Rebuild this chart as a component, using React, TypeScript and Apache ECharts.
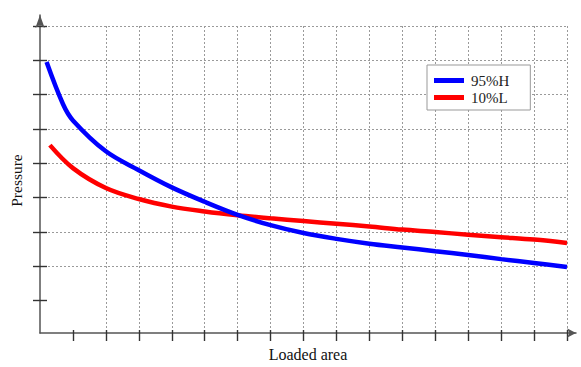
import React, { useEffect, useRef } from "react";
import * as echarts from "echarts";

const blueArea = [0.2, 0.7, 1, 2, 3, 4, 5, 6, 7, 8, 9, 10, 11, 12, 13, 14, 15, 16];
const blueValues = [7.95, 6.72, 6.25, 5.35, 4.8, 4.3, 3.88, 3.5, 3.2, 2.97, 2.8, 2.66, 2.55, 2.44, 2.33, 2.21, 2.1, 1.98];
const redArea = [0.3, 1, 2, 3, 4, 5, 6, 7, 8, 9, 10, 11, 12, 13, 14, 15, 16];
const redValues = [5.53, 4.86, 4.28, 3.96, 3.74, 3.6, 3.49, 3.4, 3.32, 3.24, 3.16, 3.07, 3.0, 2.92, 2.85, 2.78, 2.68];
const xTicks = [1, 2, 3, 4, 5, 6, 7, 8, 9, 10, 11, 12, 13, 14, 15, 16];
const yTicks = [1, 2, 3, 4, 5, 6, 7, 8, 9];
const seriesNames = ["95%H", "10%L"];

const FONT = "'Liberation Serif', 'Times New Roman', serif";

export default function App() {
  const ref = useRef<HTMLDivElement>(null);
  useEffect(() => {
    if (!ref.current) return;
    const chart = echarts.init(ref.current, null, { renderer: "svg" });
    const tickStyle = { color: "#333", width: 1.4 };
    const splitStyle = { color: "#9a9a9a", width: 1, type: [2, 2] as any };
    chart.setOption({
      animation: false,
      backgroundColor: "#fff",
      grid: [
        { left: 40, right: 14, top: 26, bottom: 32 },
        { left: 40, right: 5, top: 15, bottom: 32 },
      ],
      legend: {
        data: seriesNames,
        orient: "vertical",
        left: 427,
        top: 65,
        backgroundColor: "#fff",
        borderColor: "#999",
        borderWidth: 1,
        padding: [7, 21, 4, 7],
        itemWidth: 30,
        itemHeight: 5,
        itemGap: 0,
        icon: "rect",
        textStyle: { fontSize: 15, fontFamily: FONT, color: "#222", lineHeight: 17, padding: [0, 0, 0, 2] },
      },
      xAxis: [
        {
          type: "value", gridIndex: 0, min: 0, max: 16, interval: 1, position: "bottom",
          axisLine: { show: false },
          axisTick: { show: true, inside: false, length: 6, lineStyle: tickStyle, customValues: xTicks },
          axisLabel: { show: false },
          splitLine: { show: true, showMinLine: false, lineStyle: splitStyle },
        },
        {
          type: "value", gridIndex: 0, min: 0, max: 16, interval: 1, position: "bottom",
          axisLine: { show: false },
          axisTick: { show: true, inside: true, length: 5, lineStyle: tickStyle, customValues: xTicks },
          axisLabel: { show: false },
          splitLine: { show: false },
        },
        {
          type: "value", gridIndex: 1, min: 0, max: 1, position: "bottom",
          name: "Loaded area", nameLocation: "middle", nameGap: 13,
          nameTextStyle: { fontSize: 16, fontFamily: FONT, color: "#111" },
          axisLine: { show: true, symbol: ["none", "arrow"], symbolSize: [7, 9], lineStyle: { color: "#555", width: 1.5 } },
          axisTick: { show: false },
          axisLabel: { show: false },
          splitLine: { show: false },
        },
      ],
      yAxis: [
        {
          type: "value", gridIndex: 0, min: 0, max: 9, interval: 1, position: "left",
          name: "Pressure", nameLocation: "middle", nameGap: 16,
          nameTextStyle: { fontSize: 15.5, fontFamily: FONT, color: "#111" },
          axisLine: { show: false },
          axisTick: { show: true, inside: false, length: 7, lineStyle: tickStyle, customValues: yTicks },
          axisLabel: { show: false },
          splitLine: { show: true, showMinLine: false, lineStyle: splitStyle },
        },
        {
          type: "value", gridIndex: 0, min: 0, max: 9, interval: 1, position: "left",
          axisLine: { show: false },
          axisTick: { show: true, inside: true, length: 7, lineStyle: tickStyle, customValues: yTicks },
          axisLabel: { show: false },
          splitLine: { show: false },
        },
        {
          type: "value", gridIndex: 1, min: 0, max: 1, position: "left",
          axisLine: { show: true, symbol: ["none", "arrow"], symbolSize: [7, 13], lineStyle: { color: "#555", width: 1.5 } },
          axisTick: { show: false },
          axisLabel: { show: false },
          splitLine: { show: false },
        },
      ],
      series: [
        {
          name: seriesNames[0], type: "line", xAxisIndex: 0, yAxisIndex: 0,
          data: blueArea.map((x, i) => [x, blueValues[i]]),
          smooth: 0.35, symbol: "none", showSymbol: false,
          lineStyle: { color: "#0000ff", width: 4.5 }, itemStyle: { color: "#0000ff" }, z: 3,
        },
        {
          name: seriesNames[1], type: "line", xAxisIndex: 0, yAxisIndex: 0,
          data: redArea.map((x, i) => [x, redValues[i]]),
          smooth: 0.35, symbol: "none", showSymbol: false,
          lineStyle: { color: "#ff0000", width: 4.5 }, itemStyle: { color: "#ff0000" }, z: 2,
        },
      ],
    });
    return () => chart.dispose();
  }, []);
  return <div ref={ref} style={{ position: "absolute", left: 0, top: 0, width: 581, height: 367 }} />;
}
